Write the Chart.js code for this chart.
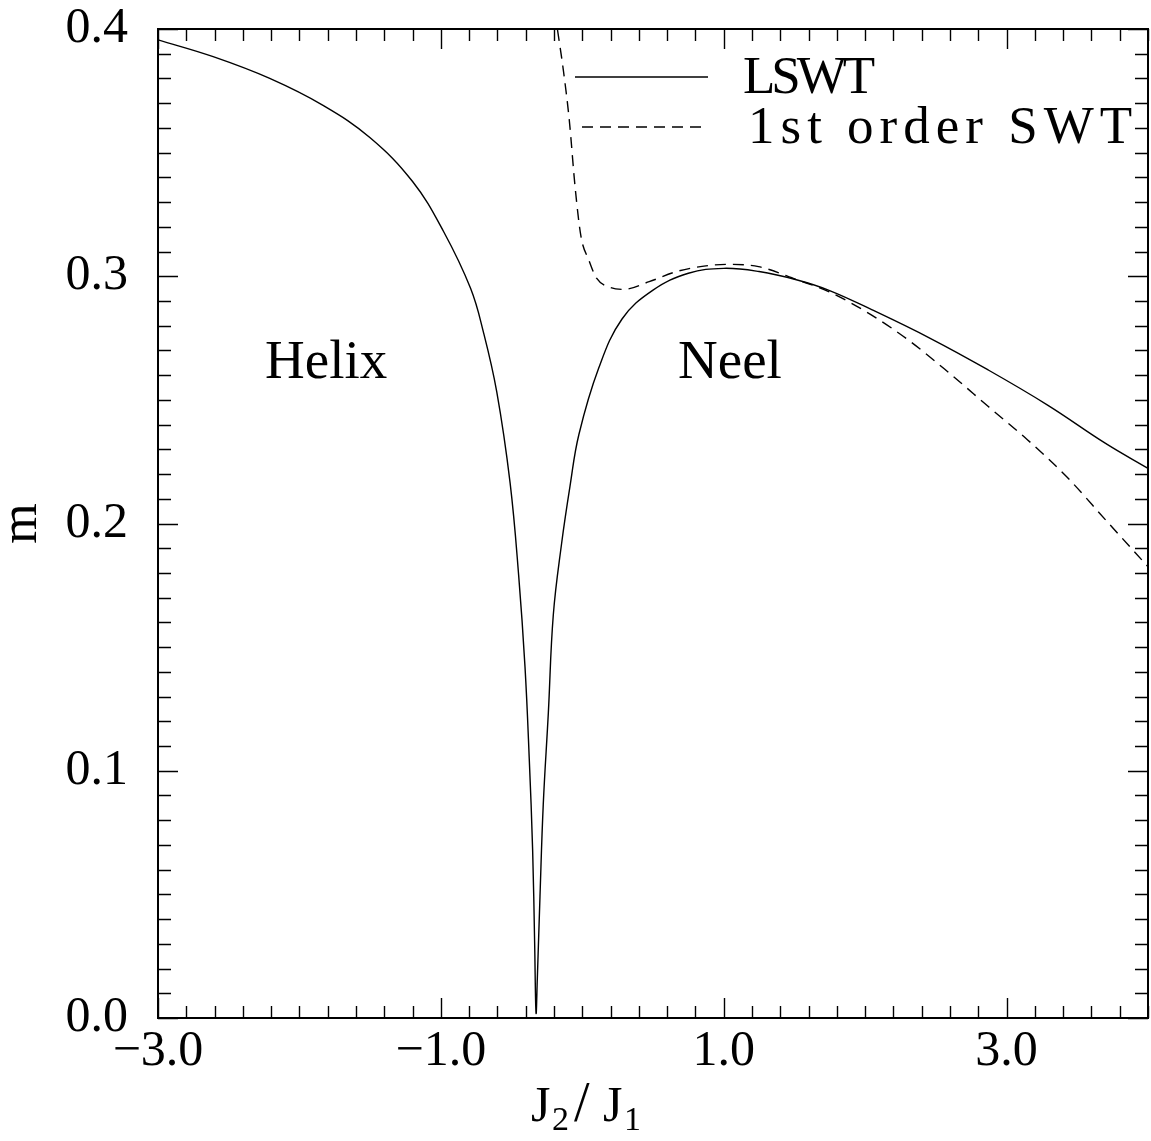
<!DOCTYPE html>
<html>
<head>
<meta charset="utf-8">
<script src="https://cdn.jsdelivr.net/npm/chart.js@4.4.1/dist/chart.umd.min.js"></script>
<style>
  html, body { margin: 0; padding: 0; background: #fff; }
  #chart { display: block; }
</style>
</head>
<body>
<canvas id="chart" width="1151" height="1141"></canvas>
<script>
// values: J2/J1 against sublattice magnetisation m
var jLswt = [-3.0, -2.61, -2.21, -1.83, -1.50, -1.20, -0.98, -0.79, -0.70, -0.605, -0.51, -0.45, -0.405, -0.375,
    -0.351, -0.337, -0.327, -0.318, -0.299, -0.276, -0.240, -0.205, -0.146, -0.087, -0.024, 0.115, 0.281,
    0.50, 0.75, 1.00, 1.25, 1.52, 1.74, 2.05, 2.46, 2.87, 3.29, 3.70, 4.0];
var mLswt = [0.3956, 0.3888, 0.380, 0.3690, 0.3560, 0.3383, 0.318, 0.2951, 0.2776, 0.2533, 0.2162, 0.1791, 0.1420, 0.1049,
    0.0678, 0.0307, 0.002, 0.0158, 0.0493, 0.0863, 0.1234, 0.163, 0.192, 0.215, 0.236, 0.2627, 0.2827,
    0.2944, 0.3012, 0.3032, 0.3019, 0.2985, 0.2944, 0.2864, 0.2749, 0.2621, 0.2479, 0.2324, 0.2223];

var jSwt = [-0.175, -0.134, -0.092, -0.051, -0.009, 0.046, 0.101, 0.197, 0.294, 0.473, 0.667, 0.860, 1.025,
    1.246, 1.522, 1.742, 2.046, 2.322, 2.598, 2.873, 3.149, 3.425, 3.701, 4.0];
var mSwt = [0.3996, 0.3834, 0.3632, 0.3362, 0.316, 0.3066, 0.2992, 0.2955, 0.2947, 0.2978, 0.3019, 0.3041, 0.3048,
    0.3039, 0.2985, 0.2938, 0.2843, 0.2735, 0.2607, 0.2472, 0.2338, 0.2189, 0.2014, 0.1825];

var seriesNames = ["LSWT", "1st order SWT"];
var xTickLabels = [-3.0, -1.0, 1.0, 3.0];
var yTickLabels = [0.0, 0.1, 0.2, 0.3, 0.4];
var regionNames = ["Helix", "Neel"];

var FONT = "'Liberation Serif', 'DejaVu Serif', serif";

function toPoints(xs, ys) {
    var pts = [];
    for (var i = 0; i < xs.length; i++) {
        pts.push({x: xs[i], y: ys[i]});
    }
    return pts;
}

function isIn(list, v) {
    return list.some(function(t) { return Math.abs(t - v) < 1e-6; });
}

function fmt(v) {
    return v.toFixed(1).replace("-", "\u2212");
}

function noEdgePadding(s) {
    s.paddingTop = 0;
    s.paddingBottom = 0;
    s.paddingLeft = 0;
    s.paddingRight = 0;
}

// inward ticks on all four sides, frame, legend and text labels
var decorPlugin = {
    id: "decor",
    afterDatasetsDraw: function(chart) {
        var ctx = chart.ctx, a = chart.chartArea, xs = chart.scales.x, ys = chart.scales.y;
        ctx.save();
        ctx.strokeStyle = "#000";
        ctx.lineWidth = 1.4;
        ctx.beginPath();
        xs.ticks.forEach(function(t) {
            var px = Math.round(xs.getPixelForValue(t.value)) + 0.5;
            var len = isIn(xTickLabels, t.value) ? 20 : 12;
            ctx.moveTo(px, a.bottom); ctx.lineTo(px, a.bottom - len);
            ctx.moveTo(px, a.top); ctx.lineTo(px, a.top + len);
        });
        ys.ticks.forEach(function(t) {
            var py = Math.round(ys.getPixelForValue(t.value)) + 0.5;
            var len = isIn(yTickLabels, t.value) ? 20 : 13;
            ctx.moveTo(a.left, py); ctx.lineTo(a.left + len, py);
            ctx.moveTo(a.right, py); ctx.lineTo(a.right - len, py);
        });
        ctx.stroke();
        ctx.lineWidth = 2;
        ctx.strokeRect(a.left, a.top, a.right - a.left, a.bottom - a.top);

        ctx.fillStyle = "#000";
        // legend
        ctx.textAlign = "left";
        ctx.textBaseline = "middle";
        ctx.font = "53px " + FONT;
        chart.data.datasets.forEach(function(ds, i) {
            var ly = 77 + i * 50;
            ctx.lineWidth = 1.4;
            ctx.setLineDash(ds.borderDash || []);
            ctx.beginPath();
            ctx.moveTo(i === 0 ? 575 : 582, ly);
            ctx.lineTo(708, ly);
            ctx.stroke();
            ctx.setLineDash([]);
            ctx.letterSpacing = i === 0 ? "-4px" : "6px";
            ctx.fillText(ds.label, i === 0 ? 743 : 748, ly + 2);
        });
        ctx.letterSpacing = "0px";

        // phase names
        ctx.font = "55px " + FONT;
        ctx.textBaseline = "alphabetic";
        ctx.fillText(regionNames[0], xs.getPixelForValue(-2.243), ys.getPixelForValue(0.2588));
        ctx.fillText(regionNames[1], xs.getPixelForValue(0.677), ys.getPixelForValue(0.2588));

        // x axis title J2/J1
        var base = 1121;
        var parts = [["J", 531, 0, 50], ["2", 552, 9, 34], ["/", 574, 0, 56], ["J", 603, 0, 50], ["1", 624, 9, 34]];
        parts.forEach(function(p) {
            ctx.font = p[3] + "px " + FONT;
            ctx.fillText(p[0], p[1], base + p[2]);
        });
        ctx.restore();
    }
};

var chart = new Chart(document.getElementById("chart"), {
    type: "line",
    data: {
        datasets: [
            {
                label: seriesNames[0],
                data: toPoints(jLswt, mLswt),
                borderColor: "#000",
                borderWidth: 1.4,
                pointRadius: 0,
                fill: false,
                tension: 0.4
            },
            {
                label: seriesNames[1],
                data: toPoints(jSwt, mSwt),
                borderColor: "#000",
                borderWidth: 1.4,
                borderDash: [11, 7],
                pointRadius: 0,
                fill: false,
                cubicInterpolationMode: "monotone"
            }
        ]
    },
    options: {
        responsive: false,
        animation: false,
        layout: { padding: { top: 29, right: 3, left: 0, bottom: 0 } },
        plugins: {
            legend: { display: false },
            tooltip: { enabled: false }
        },
        scales: {
            x: {
                type: "linear",
                min: -3,
                max: 4,
                grid: { display: false, drawTicks: false },
                border: { display: false },
                ticks: {
                    stepSize: 0.2,
                    autoSkip: false,
                    maxRotation: 0,
                    padding: 9,
                    color: "#000",
                    font: { family: FONT, size: 50, lineHeight: 1 },
                    callback: function(v) { return isIn(xTickLabels, v) ? fmt(v) : ""; }
                },
                afterFit: function(s) { s.height = 123; noEdgePadding(s); }
            },
            y: {
                type: "linear",
                min: 0,
                max: 0.4,
                grid: { display: false, drawTicks: false },
                border: { display: false },
                ticks: {
                    stepSize: 0.01,
                    autoSkip: false,
                    padding: 30,
                    color: "#000",
                    font: { family: FONT, size: 50, lineHeight: 1 },
                    callback: function(v) { return isIn(yTickLabels, v) ? v.toFixed(1) : ""; }
                },
                title: {
                    display: true,
                    text: "m",
                    color: "#000",
                    padding: { top: -4, bottom: 0 },
                    font: { family: FONT, size: 52, lineHeight: 1 }
                },
                afterFit: function(s) { s.width = 158; noEdgePadding(s); }
            }
        }
    },
    plugins: [decorPlugin]
});
</script>
</body>
</html>
